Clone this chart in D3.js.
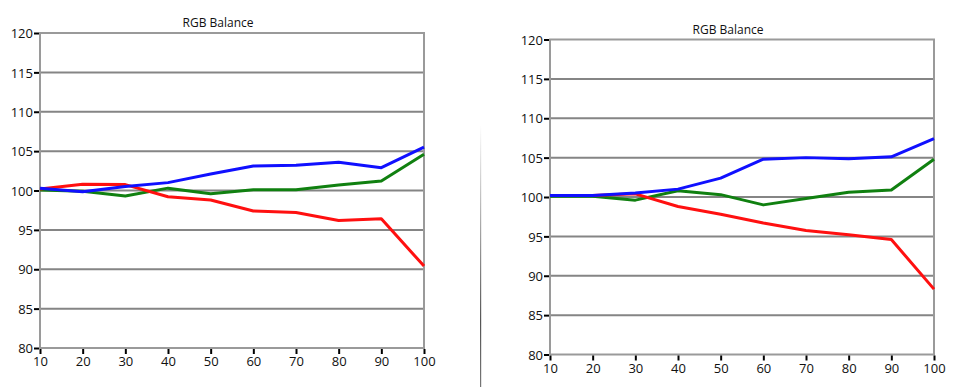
<!DOCTYPE html>
<html>
<head>
<meta charset="utf-8">
<script src="https://cdn.jsdelivr.net/npm/d3@7"></script>
<style>
  body { margin: 0; background: #fff; }
  text { font-family: "Open Sans", sans-serif; fill: #111; }
</style>
</head>
<body>
<div id="chart"></div>
<script>
// data
const levels = [10, 20, 30, 40, 50, 60, 70, 80, 90, 100];
const yTicks = [80, 85, 90, 95, 100, 105, 110, 115, 120];

const leftRed   = [100.2, 100.8, 100.75, 99.2, 98.8, 97.4, 97.2, 96.2, 96.4, 90.4];
const leftGreen = [100.05, 99.9, 99.3, 100.3, 99.6, 100.1, 100.1, 100.7, 101.2, 104.6];
const leftBlue  = [100.3, 99.85, 100.5, 101.0, 102.1, 103.1, 103.2, 103.6, 102.9, 105.5];

const rightRed   = [100.2, 100.2, 100.4, 98.8, 97.8, 96.7, 95.75, 95.2, 94.6, 88.3];
const rightGreen = [100.1, 100.1, 99.6, 100.8, 100.3, 99.0, 99.8, 100.6, 100.9, 104.8];
const rightBlue  = [100.2, 100.2, 100.5, 101.0, 102.4, 104.8, 105.0, 104.85, 105.1, 107.4];

const W = 972, H = 387;

const svg = d3.select("#chart").append("svg")
  .attr("width", W)
  .attr("height", H);

// divider fading in from the top
const grad = svg.append("defs").append("linearGradient")
  .attr("id", "fade")
  .attr("x1", 0).attr("y1", 0).attr("x2", 0).attr("y2", 1);
grad.append("stop").attr("offset", "0%").attr("stop-color", "#fff");
grad.append("stop").attr("offset", "75%").attr("stop-color", "#555");
grad.append("stop").attr("offset", "100%").attr("stop-color", "#777");

svg.append("rect")
  .attr("x", 480)
  .attr("y", 125)
  .attr("width", 1.2)
  .attr("height", H - 125)
  .attr("fill", "url(#fade)");

function drawChart(box, red, green, blue) {
  const x = d3.scaleLinear().domain([10, 100]).range([box.left, box.right]);
  const y = d3.scaleLinear().domain([80, 120]).range([box.bottom, box.top]);

  const g = svg.append("g");

  // grid lines
  g.append("g")
    .selectAll("line")
    .data(yTicks.slice(1, -1))
    .join("line")
      .attr("x1", box.left).attr("x2", box.right)
      .attr("y1", d => y(d)).attr("y2", d => y(d))
      .attr("stroke", "#858585")
      .attr("stroke-width", 2);

  // frame
  g.append("rect")
    .attr("x", box.left).attr("y", box.top)
    .attr("width", box.right - box.left)
    .attr("height", box.bottom - box.top)
    .attr("fill", "none")
    .attr("stroke", "#9a9a9a")
    .attr("stroke-width", 2);

  // axes
  const yAxis = d3.axisLeft(y).tickValues(yTicks).tickSize(5).tickPadding(1);
  const xAxis = d3.axisBottom(x).tickValues(levels).tickSize(5).tickPadding(3);

  const ya = g.append("g")
    .attr("transform", `translate(${box.left - 1},0)`)
    .call(yAxis);
  const xa = g.append("g")
    .attr("transform", `translate(0,${box.bottom + 1})`)
    .call(xAxis);

  [ya, xa].forEach(a => {
    a.select(".domain").remove();
    a.selectAll(".tick line").attr("stroke", "#000").attr("stroke-width", 2);
    a.selectAll(".tick text").style("font-size", "13px").attr("fill", "#000");
  });
  ya.selectAll(".tick text").attr("dy", "0.36em");

  // title
  g.append("text")
    .attr("x", (box.left + box.right) / 2 - 14)
    .attr("y", box.top - 6)
    .attr("text-anchor", "middle")
    .style("font-size", "12px")
    .attr("fill", "#000")
    .text("RGB Balance");

  const line = d3.line()
    .x((d, i) => x(levels[i]))
    .y(d => y(d));

  const series = [
    { vals: green, color: "#108010" },
    { vals: red, color: "#ff1010" },
    { vals: blue, color: "#1010ff" }
  ];

  g.append("g")
    .selectAll("path")
    .data(series)
    .join("path")
      .attr("d", d => line(d.vals))
      .attr("fill", "none")
      .attr("stroke", d => d.color)
      .attr("stroke-width", 3)
      .attr("stroke-linejoin", "round");
}

drawChart({ left: 40, right: 424, top: 33, bottom: 348 }, leftRed, leftGreen, leftBlue);
drawChart({ left: 550, right: 934, top: 39.5, bottom: 354.5 }, rightRed, rightGreen, rightBlue);
</script>
</body>
</html>
